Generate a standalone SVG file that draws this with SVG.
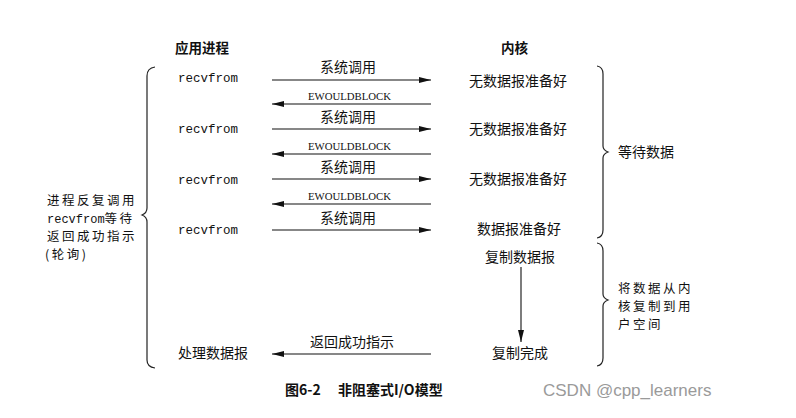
<svg xmlns="http://www.w3.org/2000/svg" width="796" height="418" viewBox="0 0 796 418">
<style>
.t{font-family:"Noto Sans CJK SC","Liberation Sans",sans-serif;font-size:14px;fill:#111}
.s{font-family:"Noto Sans CJK SC","Liberation Sans",sans-serif;font-size:12.5px;letter-spacing:2.5px;fill:#111}
.h{font-family:"Noto Sans CJK SC","Liberation Sans",sans-serif;font-size:13.5px;font-weight:bold;fill:#111}
.m{font-family:"Liberation Mono","Noto Sans CJK SC",monospace;font-size:12.5px;fill:#111}
.e{font-family:"Liberation Serif",serif;font-size:10px;fill:#111}
.ln{stroke:#111;stroke-width:1.1;fill:none}
.br{stroke:#222;stroke-width:1.2;fill:none}
</style>
<defs>
<marker id="ah" viewBox="0 0 12 6" refX="12" refY="3" markerWidth="12" markerHeight="6" markerUnits="userSpaceOnUse" orient="auto">
<path d="M0,0 L12,3 L0,6 Z" fill="#111"/>
</marker>
</defs>
<g id="headers">
<text class="h" x="175" y="53">应用进程</text>
<text class="h" x="501" y="53">内核</text>
</g>
<g id="app">
<text class="m" x="178" y="82">recvfrom</text>
<text class="m" x="178" y="133">recvfrom</text>
<text class="m" x="178" y="184">recvfrom</text>
<text class="m" x="178" y="234">recvfrom</text>
<text class="t" x="178" y="358">处理数据报</text>
</g>
<g id="kernel">
<text class="t" x="469" y="86">无数据报准备好</text>
<text class="t" x="469" y="134">无数据报准备好</text>
<text class="t" x="469" y="184">无数据报准备好</text>
<text class="t" x="477" y="234">数据报准备好</text>
<text class="t" x="485" y="262">复制数据报</text>
<text class="t" x="492" y="358">复制完成</text>
</g>
<g id="connectors">
<line class="ln" x1="272" y1="80" x2="431" y2="80" marker-end="url(#ah)"/>
<line class="ln" x1="431" y1="104" x2="272" y2="104" marker-end="url(#ah)"/>
<line class="ln" x1="272" y1="129" x2="431" y2="129" marker-end="url(#ah)"/>
<line class="ln" x1="431" y1="154" x2="272" y2="154" marker-end="url(#ah)"/>
<line class="ln" x1="272" y1="179" x2="431" y2="179" marker-end="url(#ah)"/>
<line class="ln" x1="431" y1="204" x2="272" y2="204" marker-end="url(#ah)"/>
<line class="ln" x1="272" y1="230" x2="431" y2="230" marker-end="url(#ah)"/>
<line class="ln" x1="431" y1="354" x2="272" y2="354" marker-end="url(#ah)"/>
<line class="ln" x1="521" y1="267" x2="521" y2="342" marker-end="url(#ah)"/>
</g>
<g id="labels">
<text class="t" x="320" y="72">系统调用</text>
<text class="e" x="308" y="100" textLength="83" lengthAdjust="spacingAndGlyphs">EWOULDBLOCK</text>
<text class="t" x="320" y="122">系统调用</text>
<text class="e" x="308" y="150" textLength="83" lengthAdjust="spacingAndGlyphs">EWOULDBLOCK</text>
<text class="t" x="320" y="172">系统调用</text>
<text class="e" x="308" y="200" textLength="83" lengthAdjust="spacingAndGlyphs">EWOULDBLOCK</text>
<text class="t" x="320" y="223">系统调用</text>
<text class="t" x="310" y="347">返回成功指示</text>
</g>
<g id="left-brace">
<path class="br" d="M155,67 Q147,68 147,76 L147,208 Q147,213 142,215 Q147,217 147,222 L147,360 Q147,367 155,368"/>
<text class="s" x="47" y="205">进程反复调用</text>
<text class="s" x="47" y="223"><tspan class="m" style="font-size:12px;letter-spacing:0">recvfrom</tspan>等待</text>
<text class="s" x="47" y="241">返回成功指示</text>
<text class="s" x="45" y="259">(轮询)</text>
</g>
<g id="wait-brace">
<path class="br" d="M597,66 Q603,67 603,74 L603,146 Q603,150 608,152 Q603,154 603,158 L603,230 Q603,237 597,238"/>
<text class="t" x="618" y="157">等待数据</text>
</g>
<g id="copy-brace">
<path class="br" d="M597,243 Q603,244 603,251 L603,294 Q603,298 608,300 Q603,302 603,306 L603,358 Q603,365 597,366"/>
<text class="s" x="618" y="293">将数据从内</text>
<text class="s" x="618" y="311">核复制到用</text>
<text class="s" x="618" y="329">户空间</text>
</g>
<g id="caption">
<text class="h" x="285" y="395" style="font-size:14px">图6-2</text>
<text class="h" x="338" y="395" style="font-size:14px">非阻塞式I/O模型</text>
<text x="543" y="396" style="font-family:'Liberation Sans',sans-serif;font-size:17px;fill:#9a9a9a">CSDN @cpp_learners</text>
</g>
</svg>
